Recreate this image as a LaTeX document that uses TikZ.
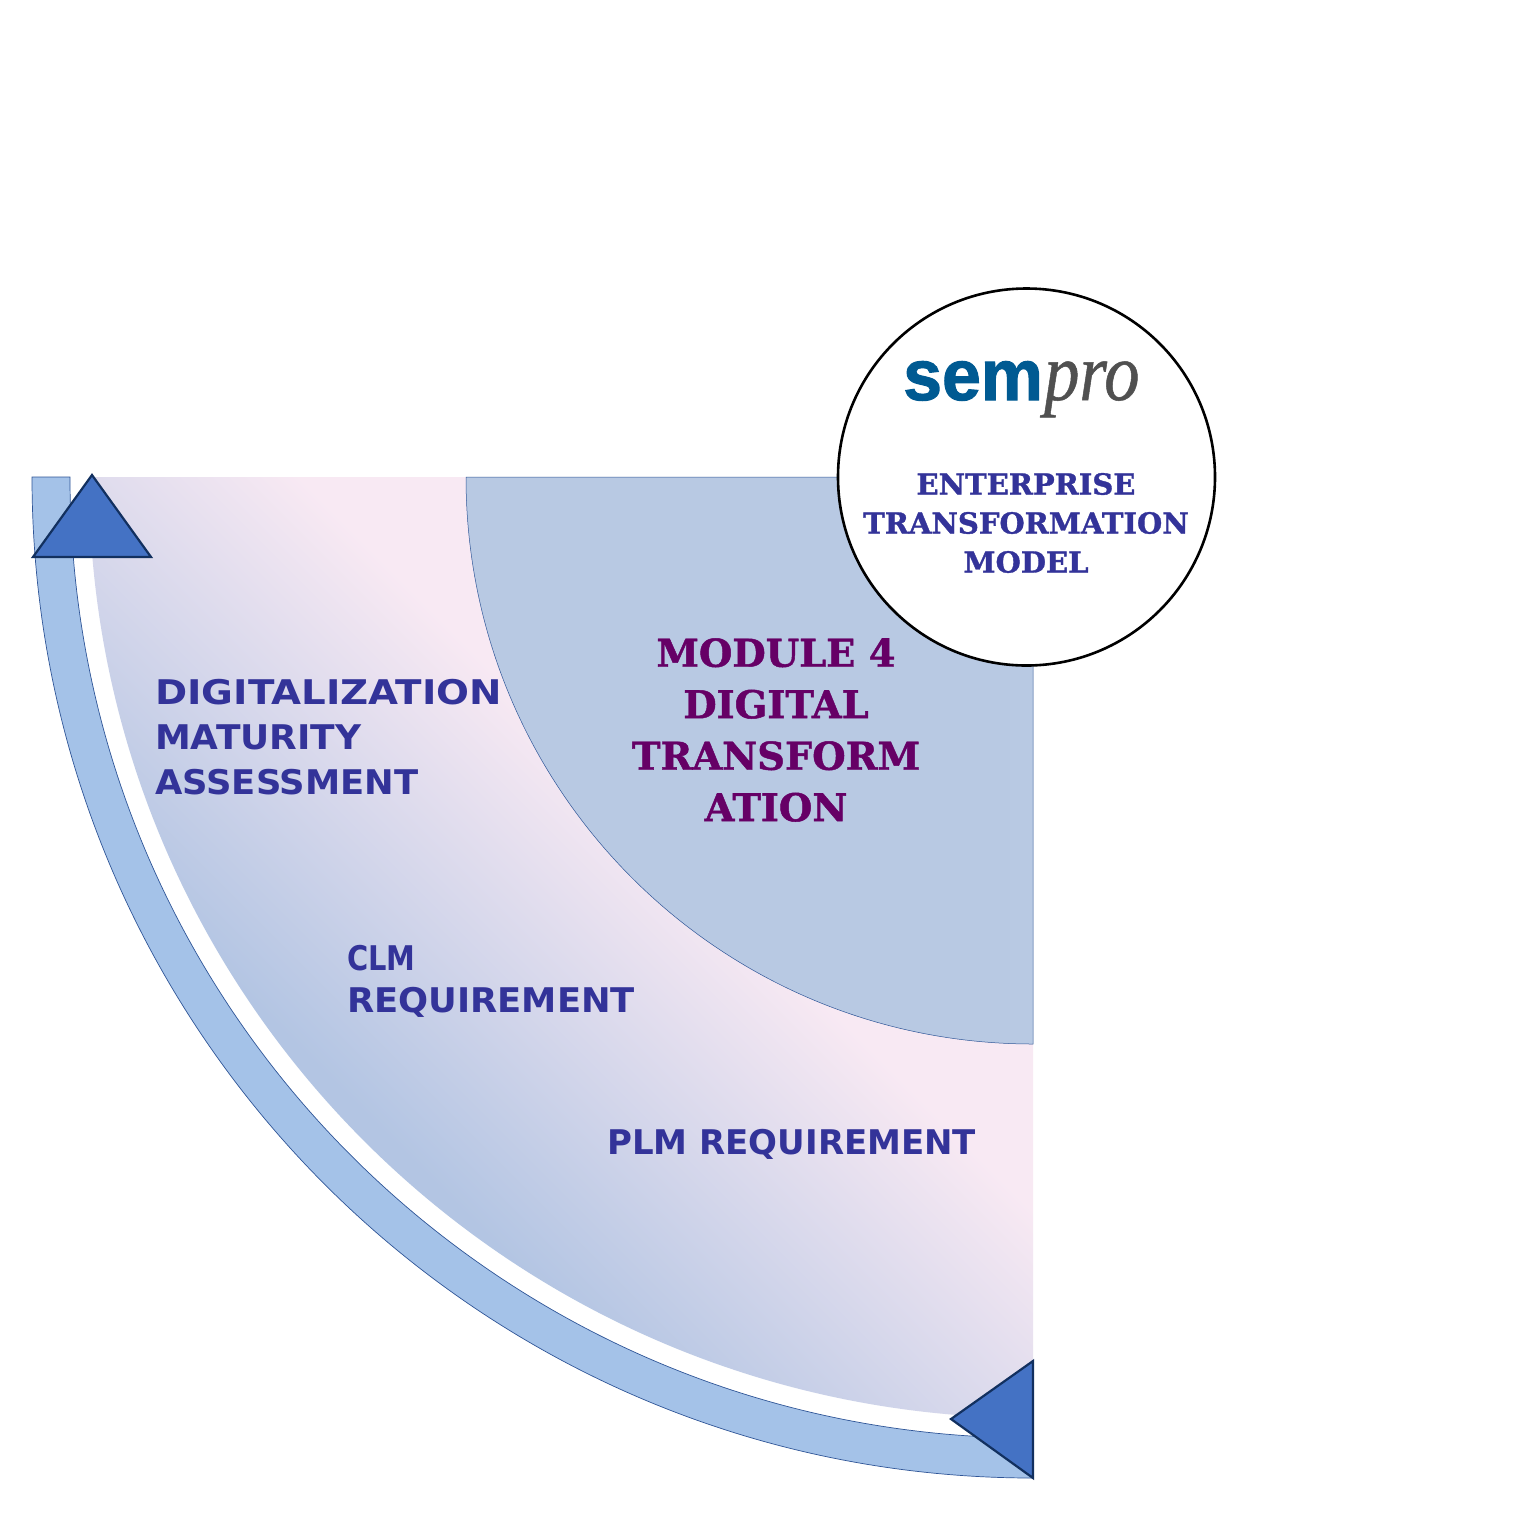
\documentclass[tikz,border=0pt]{standalone}
\usepackage{fontspec}
\setmainfont[BoldFeatures={FakeBold=1.2}]{DejaVu Serif}
\newfontfamily\comicf{DejaVu Sans}
\newfontfamily\logosans[FakeStretch=0.97,BoldFeatures={FakeBold=1.5}]{Liberation Sans}
\newfontfamily\logoserif[FakeStretch=0.86,ItalicFeatures={FakeBold=0.6}]{Liberation Serif}
\definecolor{txtblue}{HTML}{333399}
\definecolor{modpurple}{HTML}{660066}
\definecolor{bandfill}{HTML}{A4C2E8}
\definecolor{bandline}{HTML}{2F5597}
\definecolor{corefill}{HTML}{B8C9E3}
\definecolor{triline}{HTML}{12305F}
\definecolor{trifill}{HTML}{4472C4}
\definecolor{pinkc}{HTML}{F8E9F3}
\definecolor{bluec}{HTML}{B3C5E3}
\definecolor{semblue}{HTML}{005A92}
\definecolor{progrey}{HTML}{505050}
\pgfdeclareverticalshading{sectorgrad}{100bp}{color(0bp)=(bluec); color(37.14bp)=(bluec); color(66.07bp)=(pinkc); color(100bp)=(pinkc)}
\newcommand{\xstretch}[2]{\scalebox{#1}[1]{#2}}
\tikzset{
  x=1pt,y=-1pt,
  tri/.style={draw=triline,line width=2.2pt,fill=trifill,line join=miter},
  labelc/.style={text=txtblue,align=left,anchor=north west,inner sep=0pt,font=\comicf\bfseries\fontsize{34}{45}\selectfont},
  titlec/.style={text=txtblue,align=center,inner sep=0pt,font=\bfseries\fontsize{29}{39}\selectfont},
  modc/.style={text=modpurple,align=center,inner sep=0pt,font=\bfseries\fontsize{38.4}{51.5}\selectfont},
}
\begin{document}
\begin{tikzpicture}
\useasboundingbox (0,0) rectangle (1535,1535);
\fill[white] (0,0) rectangle (1535,1535);
% outer band
\path[fill=bandfill,draw=bandline,line width=0.7pt]
  (32,477) arc[start angle=180,end angle=90,radius=1001] -- (1033,1438)
  arc[start angle=90,end angle=180,x radius=963,y radius=961] -- cycle;
% gradient sector
\begin{scope}
  \clip (89,477) arc[start angle=180,end angle=90,x radius=944,y radius=941] -- (1033,1044)
    arc[start angle=90,end angle=180,radius=567] -- cycle;
  \path[shading=sectorgrad,transform canvas={rotate around={-45:(500,995)}}] (-500,645) rectangle (1500,1345);
\end{scope}
% core quarter
\path[fill=corefill,draw=bandline,line width=0.5pt]
  (466,477) arc[start angle=180,end angle=90,radius=567] -- (1033,477) -- cycle;
% triangles
\path[tri] (92,475) -- (151,557) -- (33,557) -- cycle;
\path[tri] (951,1419) -- (1033,1361) -- (1033,1478) -- cycle;
% circle
\node[circle,draw=black,line width=2.6pt,fill=white,minimum size=377pt,inner sep=0pt] (hub) at (1026.5,477) {};
% logo
\node[anchor=base west,inner sep=0pt,text=semblue,font=\logosans\bfseries\fontsize{72}{72}\selectfont] (logosem) at (903,400) {sem};
\node[anchor=base west,inner sep=0pt,text=progrey,font=\logoserif\itshape\fontsize{82}{82}\selectfont] (logopro) at (1044,400) {pro};
% texts
\node[titlec] (title) at (1026,523) {ENTERPRISE\\TRANSFORMATION\\MODEL};
\node[modc] (module) at (776,730) {MODULE 4\\DIGITAL\\TRANSFORM\\ATION};
\node[labelc] (dma) at (155,679) {\xstretch{1.14}{DIGITALIZATION}\\\xstretch{1.057}{MATURITY}\\\xstretch{1.04}{ASSESSMENT}};
\node[labelc,font=\comicf\bfseries\fontsize{34}{42}\selectfont] (clm) at (347,945) {\xstretch{0.85}{CLM}\\\xstretch{1.04}{REQUIREMENT}};
\node[labelc] (plm) at (607,1129) {PLM REQUIREMENT};
\end{tikzpicture}
\end{document}
